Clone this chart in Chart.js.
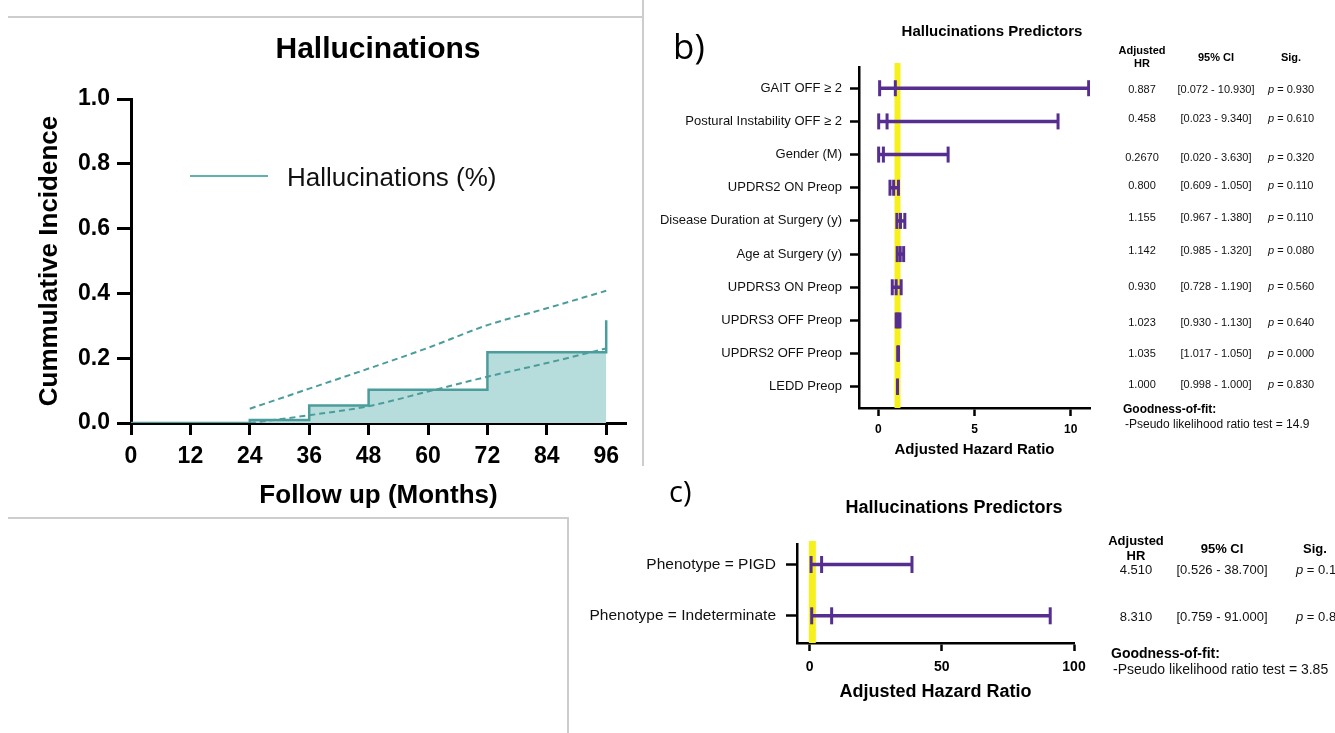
<!DOCTYPE html>
<html>
<head>
<meta charset="utf-8">
<title>Hallucinations</title>
<script src="https://cdn.jsdelivr.net/npm/chart.js@4.4.1/dist/chart.umd.min.js"></script>
<style>
  html, body { margin: 0; padding: 0; background: #fff; }
  #page { position: relative; width: 1335px; height: 733px; overflow: hidden;
          font-family: "Liberation Sans", Arial, Helvetica, sans-serif; color: #000; }
  #page canvas { position: absolute; }
  .txt { position: absolute; white-space: pre; line-height: 1; }
  .rule { position: absolute; background: #cdcdcd; }
  .panel-tag { font-family: "Open Sans", "Noto Sans", sans-serif; }
</style>
</head>
<body>
<div id="page">
  <div class="rule" style="left:8px;top:16px;width:636px;height:2px;"></div>
  <div class="rule" style="left:642px;top:0;width:2px;height:466px;"></div>
  <div class="rule" style="left:8px;top:517px;width:561px;height:2px;"></div>
  <div class="rule" style="left:567px;top:517px;width:2px;height:216px;"></div>

  <canvas id="incidence" width="660" height="520" style="left:0;top:0;"></canvas>
  <canvas id="forestB" width="665" height="470" style="left:660px;top:0;"></canvas>
  <canvas id="forestC" width="762" height="263" style="left:573px;top:470px;"></canvas>
</div>

<script>
// ---- Cumulative incidence of hallucinations (months of follow-up) ----
const monthTicks      = [0, 12, 24, 36, 48, 60, 72, 84, 96];
const incidenceTicks  = [0, 0.2, 0.4, 0.6, 0.8, 1.0];
const stepMonths      = [0, 24, 36, 48, 72, 96];
const stepIncidence   = [0, 0.009, 0.054, 0.103, 0.218, 0.317];
const bandMonths      = [24, 36, 48, 60, 72, 84, 96];
const upperBand       = [0.044, 0.106, 0.168, 0.232, 0.302, 0.354, 0.408];
const lowerBand       = [0.000, 0.024, 0.052, 0.097, 0.143, 0.185, 0.230];

// ---- Predictors model (b) ----
const predictorsB = ['GAIT OFF \u2265 2', 'Postural Instability OFF \u2265 2', 'Gender (M)',
  'UPDRS2 ON Preop', 'Disease Duration at Surgery (y)', 'Age at Surgery (y)',
  'UPDRS3 ON Preop', 'UPDRS3 OFF Preop', 'UPDRS2 OFF Preop', 'LEDD Preop'];
const hrLabelsB = ['0.887', '0.458', '0.2670', '0.800', '1.155', '1.142', '0.930', '1.023', '1.035', '1.000'];
const ciLowB    = [0.072, 0.023, 0.020, 0.609, 0.967, 0.985, 0.728, 0.930, 1.017, 0.998];
const ciHighB   = [10.930, 9.340, 3.630, 1.050, 1.380, 1.320, 1.190, 1.130, 1.050, 1.000];
const pValuesB  = [0.930, 0.610, 0.320, 0.110, 0.110, 0.080, 0.560, 0.640, 0.000, 0.830];
const xTicksB   = [0, 5, 10];
const fitB      = 14.9;

// ---- Phenotype model (c) ----
const predictorsC = ['Phenotype = PIGD', 'Phenotype = Indeterminate'];
const hrLabelsC = ['4.510', '8.310'];
const ciLowC    = [0.526, 0.759];
const ciHighC   = [38.700, 91.000];
const pValuesC  = [0.170, 0.830];
const xTicksC   = [0, 50, 100];
const fitC      = 3.85;

const FONT = '"Liberation Sans", Arial, Helvetica, sans-serif';
const TEAL = '#4a9d9b';
const TEAL_FILL = '#b7dcdc';
const PURPLE = '#552e90';
const YELLOW = '#f6f01c';

const page = document.getElementById('page');

// absolutely placed text; ax: 0 = left edge at x, 0.5 = centred on x
function put(html, x, y, css, ax) {
  const d = document.createElement('div');
  d.className = 'txt';
  d.innerHTML = html;
  d.style.cssText += css;
  d.style.left = x + 'px';
  d.style.top = y + 'px';
  d.style.transform = 'translate(' + (-(ax || 0) * 100) + '%, -50%)';
  page.appendChild(d);
  return d;
}

const common = {
  responsive: false,
  animation: false,
  devicePixelRatio: 1,
  events: [],
};

function fixedTicks(values) {
  return scale => { scale.ticks = values.map(v => ({ value: v })); };
}

// ---------------- panel a: cumulative incidence ----------------
const toPts = (xs, ys) => xs.map((x, i) => ({ x, y: ys[i] }));

new Chart(document.getElementById('incidence'), {
  type: 'line',
  data: {
    datasets: [
      {
        label: 'Hallucinations (%)',
        data: toPts(stepMonths, stepIncidence),
        stepped: 'before',
        borderColor: TEAL,
        backgroundColor: TEAL_FILL,
        borderWidth: 2.5,
        fill: 'origin',
        pointRadius: 0,
        order: 2,
      },
      {
        label: 'upper 95% CI',
        data: toPts(bandMonths, upperBand),
        borderColor: TEAL,
        borderWidth: 2,
        borderDash: [6, 4],
        cubicInterpolationMode: 'monotone',
        fill: false,
        pointRadius: 0,
        order: 1,
      },
      {
        label: 'lower 95% CI',
        data: toPts(bandMonths, lowerBand),
        borderColor: TEAL,
        borderWidth: 2,
        borderDash: [6, 4],
        cubicInterpolationMode: 'monotone',
        fill: false,
        pointRadius: 0,
        order: 1,
      },
    ],
  },
  options: {
    ...common,
    layout: { padding: { left: 0, right: 34, top: 99, bottom: 0 } },
    plugins: {
      legend: { display: false },
      tooltip: { enabled: false },
      title: { display: false },
    },
    scales: {
      x: {
        type: 'linear',
        min: 0,
        max: 100,
        afterBuildTicks: fixedTicks(monthTicks),
        afterFit: s => { s.height = 97; },
        ticks: { color: '#000', font: { family: FONT, size: 23, weight: 'bold' }, padding: 8 },
        grid: { drawOnChartArea: false, drawTicks: true, tickLength: 12, tickWidth: 3, tickColor: '#000' },
        border: { display: true, color: '#000', width: 3 },
        title: {
          display: true,
          text: 'Follow up (Months)',
          color: '#000',
          font: { family: FONT, size: 26, weight: 'bold' },
          padding: { top: 0, bottom: 9 },
        },
      },
      y: {
        type: 'linear',
        min: 0,
        max: 1,
        afterBuildTicks: fixedTicks(incidenceTicks),
        afterFit: s => { s.width = 131; },
        ticks: {
          color: '#000',
          font: { family: FONT, size: 23, weight: 'bold' },
          padding: 7,
          callback: v => v.toFixed(1),
        },
        grid: { drawOnChartArea: false, drawTicks: true, tickLength: 14, tickWidth: 3, tickColor: '#000' },
        border: { display: true, color: '#000', width: 3 },
        title: {
          display: true,
          text: 'Cummulative Incidence',
          color: '#000',
          font: { family: FONT, size: 26, weight: 'bold' },
          padding: { top: 34, bottom: 0 },
        },
      },
    },
  },
});

put('Hallucinations', 378, 48, 'font-size:30px;font-weight:bold;', 0.5);

// legend for the incidence curve
(function () {
  const line = document.createElement('div');
  line.style.cssText = 'position:absolute;left:190px;top:175px;width:78px;height:2px;background:#5fb0ae;';
  page.appendChild(line);
  put('Hallucinations (%)', 287, 177, 'font-size:26px;color:#111;', 0);
})();

// ---------------- forest plots ----------------
function forest(canvasId, cfg) {
  const n = cfg.labels.length;
  const hr = cfg.hrLabels.map(Number);
  const datasets = [];

  // HR = 1 reference band
  datasets.push({
    data: [{ x: 1, y: cfg.bandTop }, { x: 1, y: cfg.yMax }],
    showLine: true,
    borderColor: YELLOW,
    borderWidth: cfg.bandWidth,
    pointRadius: 0,
    clip: false,
    order: 50,
  });
  // confidence interval whiskers
  for (let i = 0; i < n; i++) {
    datasets.push({
      data: [{ x: cfg.lo[i], y: i }, { x: cfg.hi[i], y: i }],
      showLine: true,
      borderColor: PURPLE,
      borderWidth: cfg.lineWidth,
      pointRadius: 0,
      order: 5,
    });
  }
  // caps at the CI limits and the point estimate
  const caps = [];
  for (let i = 0; i < n; i++) {
    caps.push({ x: cfg.lo[i], y: i }, { x: hr[i], y: i }, { x: cfg.hi[i], y: i });
  }
  datasets.push({
    data: caps,
    showLine: false,
    pointStyle: 'line',
    pointRotation: 90,
    pointRadius: cfg.capRadius,
    pointBorderWidth: cfg.capWidth,
    pointBorderColor: PURPLE,
    pointBackgroundColor: PURPLE,
    order: 1,
  });

  return new Chart(document.getElementById(canvasId), {
    type: 'scatter',
    data: { datasets },
    options: {
      ...common,
      layout: { padding: cfg.padding },
      plugins: {
        legend: { display: false },
        tooltip: { enabled: false },
        title: { display: false },
      },
      scales: {
        x: {
          type: 'linear',
          min: cfg.xMin,
          max: cfg.xMax,
          afterBuildTicks: fixedTicks(cfg.xTicks),
          afterFit: s => { s.height = cfg.xHeight; },
          ticks: { color: '#000', font: { family: FONT, size: cfg.xTickSize, weight: 'bold' }, padding: cfg.xTickPad },
          grid: { drawOnChartArea: false, drawTicks: true, tickLength: 8, tickWidth: 2.5, tickColor: '#000' },
          border: { display: true, color: '#000', width: 2.5 },
          title: {
            display: true,
            text: 'Adjusted Hazard Ratio',
            color: '#000',
            font: { family: FONT, size: cfg.xTitleSize, weight: 'bold' },
            padding: { top: 0, bottom: cfg.xTitlePad },
          },
        },
        y: {
          type: 'linear',
          reverse: true,
          min: cfg.yMin,
          max: cfg.yMax,
          afterBuildTicks: fixedTicks(cfg.labels.map((_, i) => i)),
          afterFit: s => { s.width = cfg.yWidth; },
          ticks: {
            color: '#111',
            font: { family: FONT, size: cfg.yTickSize },
            padding: cfg.yTickPad,
            callback: v => cfg.labels[v],
          },
          grid: { drawOnChartArea: false, drawTicks: true, tickLength: cfg.yTickLen, tickWidth: 2.5, tickColor: '#000' },
          border: { display: true, color: '#000', width: 2.5 },
        },
      },
    },
  });
}

forest('forestB', {
  labels: predictorsB, hrLabels: hrLabelsB, lo: ciLowB, hi: ciHighB,
  xMin: -1, xMax: 11, xTicks: xTicksB,
  yMin: -0.64, yMax: 9.64, bandTop: -0.76,
  padding: { left: 0, right: 235, top: 67, bottom: 0 },
  xHeight: 62, xTickSize: 12, xTickPad: 6, xTitleSize: 15, xTitlePad: 11,
  yWidth: 199, yTickSize: 13, yTickPad: 8, yTickLen: 9,
  bandWidth: 6, lineWidth: 3.5, capWidth: 3, capRadius: 8,
});
put('Hallucinations Predictors', 992, 30, 'font-size:15px;font-weight:bold;', 0.5);

forest('forestC', {
  labels: predictorsC, hrLabels: hrLabelsC, lo: ciLowC, hi: ciHighC,
  xMin: -4.8, xMax: 100, xTicks: xTicksC,
  yMin: -0.4, yMax: 1.53, bandTop: -0.46,
  padding: { left: 0, right: 261, top: 74, bottom: 20 },
  xHeight: 70, xTickSize: 14, xTickPad: 8, xTitleSize: 18, xTitlePad: 10.5,
  yWidth: 224, yTickSize: 15.5, yTickPad: 10, yTickLen: 11,
  bandWidth: 7, lineWidth: 3.5, capWidth: 3, capRadius: 8.5,
});
put('Hallucinations Predictors', 954, 507, 'font-size:18px;font-weight:bold;', 0.5);

// ---------------- estimate tables ----------------
const fmtCI = (lo, hi) => '[' + lo.toFixed(3) + ' - ' + hi.toFixed(3) + ']';
const fmtP = p => '<i>p</i> = ' + p.toFixed(3);

function table(cfg) {
  const h = 'font-weight:bold;font-size:' + cfg.headSize + 'px;';
  put('Adjusted', cfg.hrX, cfg.headY[0], h, 0.5);
  put('HR', cfg.hrX, cfg.headY[1], h, 0.5);
  put('95% CI', cfg.ciX, cfg.headY[2], h, 0.5);
  put('Sig.', cfg.pX, cfg.headY[2], h, 0.5);
  const b = 'font-size:' + cfg.bodySize + 'px;color:#111;';
  cfg.hrLabels.forEach((t, i) => {
    const y = cfg.rowY[i];
    put(t, cfg.hrX, y, b, 0.5);
    put(fmtCI(cfg.lo[i], cfg.hi[i]), cfg.ciX, y, b, 0.5);
    put(fmtP(cfg.p[i]), cfg.pLeft, y, b, 0);
  });
  put('Goodness-of-fit:', cfg.fitX, cfg.fitY[0], 'font-weight:bold;font-size:' + cfg.fitSize + 'px;', 0);
  put('-Pseudo likelihood ratio test = ' + cfg.fit, cfg.fitX + 2, cfg.fitY[1], 'font-size:' + cfg.fitSize + 'px;color:#111;', 0);
}

table({
  hrLabels: hrLabelsB, lo: ciLowB, hi: ciHighB, p: pValuesB, fit: fitB,
  hrX: 1142, ciX: 1216, pX: 1291, pLeft: 1268,
  headY: [50, 63, 57], rowY: [89, 118, 157, 185, 217, 250, 286, 322, 353, 384],
  headSize: 11, bodySize: 11, fitX: 1123, fitY: [409, 424], fitSize: 12,
});

table({
  hrLabels: hrLabelsC, lo: ciLowC, hi: ciHighC, p: pValuesC, fit: fitC,
  hrX: 1136, ciX: 1222, pX: 1315, pLeft: 1296,
  headY: [540, 555, 548], rowY: [569, 616],
  headSize: 13, bodySize: 13, fitX: 1111, fitY: [653, 669], fitSize: 14,
});

// panel tags
put('b)', 673, 45, 'font-size:35px;', 0).classList.add('panel-tag');
put('c)', 669, 490, 'font-size:29px;', 0).classList.add('panel-tag');
</script>
</body>
</html>
